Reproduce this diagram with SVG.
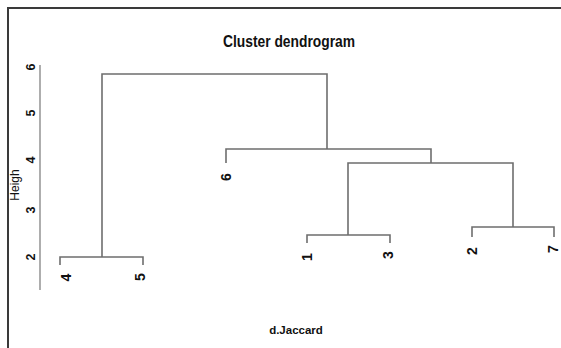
<svg xmlns="http://www.w3.org/2000/svg" width="561" height="348" viewBox="0 0 561 348">
  <style>
    .frame { fill: none; stroke: #3a3a3a; stroke-width: 2; }
    .axis { fill: none; stroke: #777; stroke-width: 1.2; }
    .link { fill: none; stroke: #6e6e6e; stroke-width: 1.6; }
    .tick { font-family: "Liberation Sans", Arial, sans-serif; font-size: 12.5px; font-weight: bold; fill: #111; text-anchor: middle; }
    .leaf { font-family: "Liberation Sans", Arial, sans-serif; font-size: 14px; font-weight: bold; fill: #111; text-anchor: middle; }
    .title { font-family: "Liberation Sans", Arial, sans-serif; font-size: 16px; font-weight: bold; fill: #111; }
    .xlab { font-family: "Liberation Sans", Arial, sans-serif; font-size: 11.5px; font-weight: bold; fill: #111; text-anchor: middle; }
    .ylab { font-family: "Liberation Sans", Arial, sans-serif; font-size: 12px; fill: #111; text-anchor: middle; }
  </style>

  <rect width="561" height="348" fill="#fff"/>

  <!-- outer frame: top and left edges -->
  <path class="frame" d="M8 348 V8 H561"/>

  <text class="title" x="223" y="47" textLength="132" lengthAdjust="spacingAndGlyphs">Cluster dendrogram</text>

  <!-- height axis -->
  <g id="y-axis">
    <line class="axis" x1="40" y1="65" x2="40" y2="290"/>
    <text class="tick" transform="translate(34.5 67) rotate(-90)">6</text>
    <text class="tick" transform="translate(34.5 113) rotate(-90)">5</text>
    <text class="tick" transform="translate(34.5 160) rotate(-90)">4</text>
    <text class="tick" transform="translate(34.5 210) rotate(-90)">3</text>
    <text class="tick" transform="translate(34.5 257) rotate(-90)">2</text>
    <text class="ylab" transform="translate(19 185) rotate(-90)">Heigh</text>
  </g>

  <!-- merge links -->
  <g id="connectors">
    <path class="link" d="M102 257 V74 H327 V149"/>
    <path class="link" d="M60 265 V257 H143 V265"/>
    <path class="link" d="M226 163 V149 H431 V163"/>
    <path class="link" d="M348 235 V163 H513 V227"/>
    <path class="link" d="M307 243 V235 H390 V243"/>
    <path class="link" d="M472 237 V227 H554 V237"/>
  </g>

  <!-- leaves -->
  <g id="leaf-4"><text class="leaf" transform="translate(70.5 277.5) rotate(-90)">4</text></g>
  <g id="leaf-5"><text class="leaf" transform="translate(145 277) rotate(-90)">5</text></g>
  <g id="leaf-6"><text class="leaf" transform="translate(231 177) rotate(-90)">6</text></g>
  <g id="leaf-1"><text class="leaf" transform="translate(312 257) rotate(-90)">1</text></g>
  <g id="leaf-3"><text class="leaf" transform="translate(393 255) rotate(-90)">3</text></g>
  <g id="leaf-2"><text class="leaf" transform="translate(477 251) rotate(-90)">2</text></g>
  <g id="leaf-7"><text class="leaf" transform="translate(558 249) rotate(-90)">7</text></g>

  <text class="xlab" x="296" y="334">d.Jaccard</text>
</svg>
